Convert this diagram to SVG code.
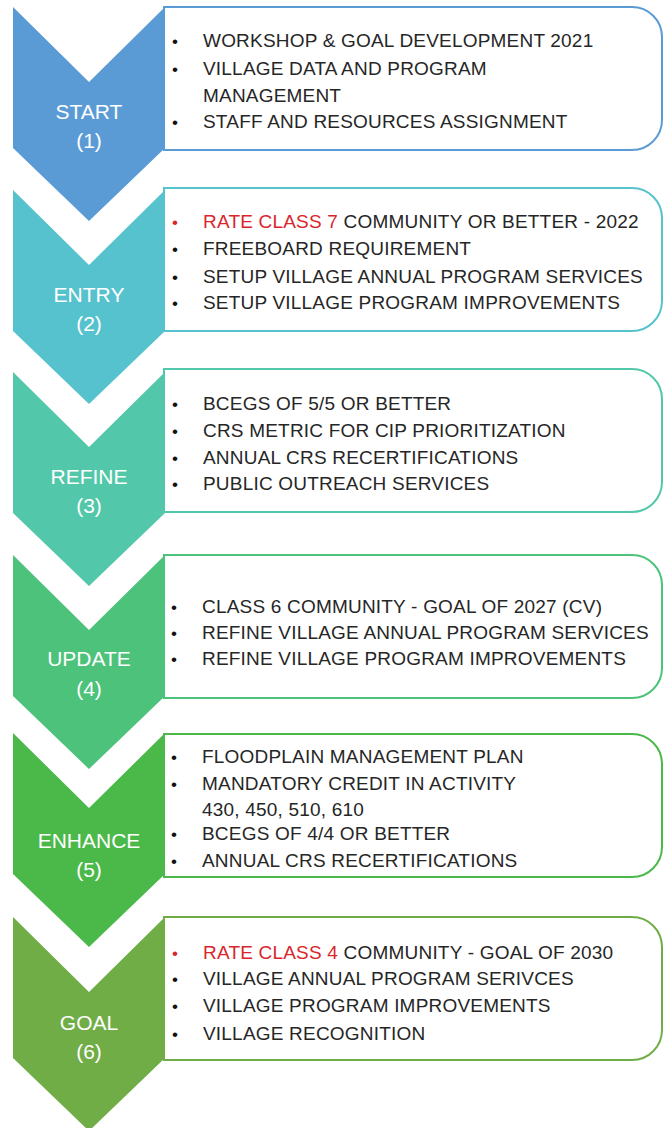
<svg xmlns="http://www.w3.org/2000/svg" width="664" height="1128" viewBox="0 0 664 1128">
  <style>
    .box { fill: #ffffff; stroke-width: 2; }
    .lbl { font-family: "Liberation Sans", Arial, sans-serif; font-size: 21px; fill: #ffffff; text-anchor: middle; }
    .item { font-family: "Liberation Sans", Arial, sans-serif; font-size: 19px; fill: #262626; letter-spacing: 0.2px; }
    .dot { font-family: "Liberation Sans", Arial, sans-serif; font-size: 17px; fill: #111111; }
    .red { fill: #d9262c; }
  </style>
  <defs>
    <!-- chevron pointing down, origin at its top-left corner -->
    <path id="chev" d="M0,0 L76,75 L152,0 L152,141 L76,214 L0,141 Z"/>
    <!-- panel with rounded right corners, origin at top-left -->
    <path id="panel" d="M0,0 H468 A30,30 0 0 1 498,30 V113 A30,30 0 0 1 468,143 H0 Z"/>
  </defs>

  <!-- step 1 -->
  <g id="step1">
    <use href="#panel" x="164" y="7" class="box" stroke="#5b9bd5"/>
    <use href="#chev" x="13" y="7" fill="#5b9bd5"/>
    <text class="lbl" x="89" y="119">START</text>
    <text class="lbl" x="89" y="148">(1)</text>
    <text class="dot" x="172" y="47">•</text>
    <text class="item" x="203" y="47">WORKSHOP &amp; GOAL DEVELOPMENT 2021</text>
    <text class="dot" x="172" y="75">•</text>
    <text class="item" x="203" y="75">VILLAGE DATA AND PROGRAM</text>
    <text class="item" x="203" y="102">MANAGEMENT</text>
    <text class="dot" x="172" y="128">•</text>
    <text class="item" x="203" y="128">STAFF AND RESOURCES ASSIGNMENT</text>
  </g>

  <!-- step 2 -->
  <g id="step2">
    <use href="#panel" x="164" y="188" class="box" stroke="#56c2ce"/>
    <use href="#chev" x="13" y="190" fill="#56c2ce"/>
    <text class="lbl" x="89" y="302">ENTRY</text>
    <text class="lbl" x="89" y="331">(2)</text>
    <text class="dot red" x="172" y="228">•</text>
    <text class="item" x="203" y="228"><tspan class="red">RATE CLASS 7</tspan> COMMUNITY OR BETTER - 2022</text>
    <text class="dot" x="172" y="255">•</text>
    <text class="item" x="203" y="255">FREEBOARD REQUIREMENT</text>
    <text class="dot" x="172" y="283">•</text>
    <text class="item" x="203" y="283">SETUP VILLAGE ANNUAL PROGRAM SERVICES</text>
    <text class="dot" x="172" y="309">•</text>
    <text class="item" x="203" y="309">SETUP VILLAGE PROGRAM IMPROVEMENTS</text>
  </g>

  <!-- step 3 -->
  <g id="step3">
    <use href="#panel" x="164" y="369" class="box" stroke="#52c7a9"/>
    <use href="#chev" x="13" y="372" fill="#52c7a9"/>
    <text class="lbl" x="89" y="484">REFINE</text>
    <text class="lbl" x="89" y="513">(3)</text>
    <text class="dot" x="172" y="410">•</text>
    <text class="item" x="203" y="410">BCEGS OF 5/5 OR BETTER</text>
    <text class="dot" x="172" y="437">•</text>
    <text class="item" x="203" y="437">CRS METRIC FOR CIP PRIORITIZATION</text>
    <text class="dot" x="172" y="464">•</text>
    <text class="item" x="203" y="464">ANNUAL CRS RECERTIFICATIONS</text>
    <text class="dot" x="172" y="490">•</text>
    <text class="item" x="203" y="490">PUBLIC OUTREACH SERVICES</text>
  </g>

  <!-- step 4 -->
  <g id="step4">
    <use href="#panel" x="164" y="555" class="box" stroke="#4cc27a"/>
    <use href="#chev" x="13" y="555" fill="#4cc27a"/>
    <text class="lbl" x="89" y="666">UPDATE</text>
    <text class="lbl" x="89" y="696">(4)</text>
    <text class="dot" x="171" y="613">•</text>
    <text class="item" x="202" y="613">CLASS 6 COMMUNITY - GOAL OF 2027 (CV)</text>
    <text class="dot" x="171" y="639">•</text>
    <text class="item" x="202" y="639">REFINE VILLAGE ANNUAL PROGRAM SERVICES</text>
    <text class="dot" x="171" y="665">•</text>
    <text class="item" x="202" y="665">REFINE VILLAGE PROGRAM IMPROVEMENTS</text>
  </g>

  <!-- step 5 -->
  <g id="step5">
    <use href="#panel" x="164" y="734" class="box" stroke="#4bb94a"/>
    <use href="#chev" x="13" y="733" fill="#4bb94a"/>
    <text class="lbl" x="89" y="848">ENHANCE</text>
    <text class="lbl" x="89" y="877">(5)</text>
    <text class="dot" x="171" y="763">•</text>
    <text class="item" x="202" y="763">FLOODPLAIN MANAGEMENT PLAN</text>
    <text class="dot" x="171" y="790">•</text>
    <text class="item" x="202" y="790">MANDATORY CREDIT IN ACTIVITY</text>
    <text class="item" x="202" y="816">430, 450, 510, 610</text>
    <text class="dot" x="171" y="840">•</text>
    <text class="item" x="202" y="840">BCEGS OF 4/4 OR BETTER</text>
    <text class="dot" x="171" y="867">•</text>
    <text class="item" x="202" y="867">ANNUAL CRS RECERTIFICATIONS</text>
  </g>

  <!-- step 6 -->
  <g id="step6">
    <use href="#panel" x="164" y="917" class="box" stroke="#70ad47"/>
    <use href="#chev" x="13" y="917" fill="#70ad47"/>
    <text class="lbl" x="89" y="1030">GOAL</text>
    <text class="lbl" x="89" y="1059">(6)</text>
    <text class="dot red" x="172" y="959">•</text>
    <text class="item" x="203" y="959"><tspan class="red">RATE CLASS 4</tspan> COMMUNITY - GOAL OF 2030</text>
    <text class="dot" x="172" y="985">•</text>
    <text class="item" x="203" y="985">VILLAGE ANNUAL PROGRAM SERIVCES</text>
    <text class="dot" x="172" y="1012">•</text>
    <text class="item" x="203" y="1012">VILLAGE PROGRAM IMPROVEMENTS</text>
    <text class="dot" x="172" y="1040">•</text>
    <text class="item" x="203" y="1040">VILLAGE RECOGNITION</text>
  </g>

  <!-- no separate connectors: the chevrons themselves carry the flow -->
  <g id="connectors"/>
</svg>
